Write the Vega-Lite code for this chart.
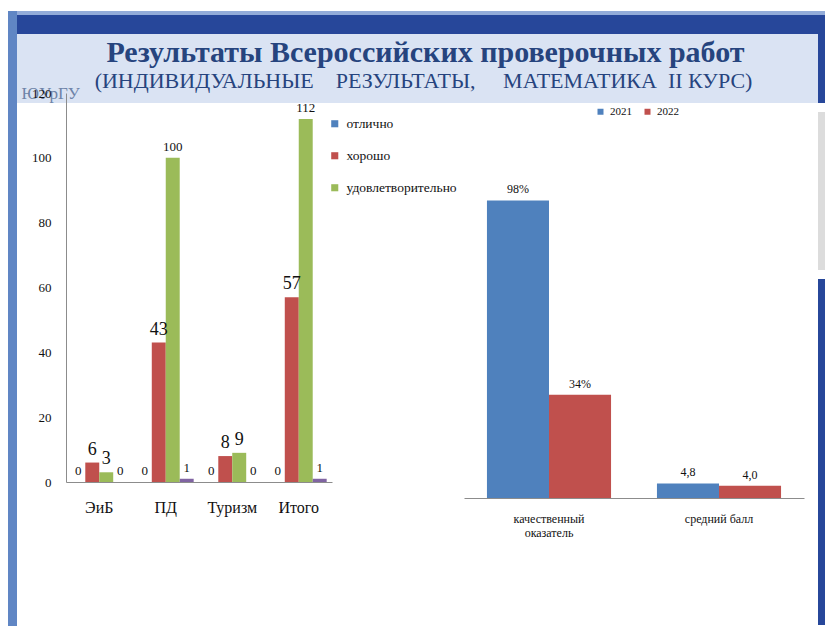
{
  "$schema": "https://vega.github.io/schema/vega-lite/v6.json",
  "padding": {"left": 8, "top": 11, "right": 0, "bottom": 0},
  "background": "white",
  "config": {"view": {"stroke": null}, "font": "Liberation Serif"},
  "spacing": 0,
  "align": "none",
  "hconcat": [
    {
      "width": 9, "height": 615,
      "view": {"fill": "#6086C4", "stroke": null},
      "data": {"values": [{}]},
      "mark": {"type": "text", "fontSize": 0},
      "encoding": {"text": {"value": ""}}
    },
    {
      "spacing": 0,
      "align": "none",
      "vconcat": [
        {
          "width": 808, "height": 4,
          "view": {"fill": "#93ACD9", "stroke": null},
          "data": {"values": [{}]},
          "mark": {"type": "text", "fontSize": 0},
          "encoding": {"text": {"value": ""}}
        },
        {
          "width": 808, "height": 19,
          "view": {"fill": "#27479A", "stroke": null},
          "data": {"values": [{}]},
          "mark": {"type": "text", "fontSize": 0},
          "encoding": {"text": {"value": ""}}
        },
        {
          "spacing": 0,
          "align": "none",
          "hconcat": [
            {
              "spacing": -16,
              "align": "none",
              "vconcat": [
                {
                  "width": 801, "height": 69,
                  "view": {"fill": "#DAE3F3", "stroke": null},
                  "data": {"values": [
                    {"line": "Результаты Всероссийских проверочных работ", "row": "title"},
                    {"line": "(ИНДИВИДУАЛЬНЫЕ\u00a0\u00a0\u00a0 РЕЗУЛЬТАТЫ,\u00a0\u00a0\u00a0\u00a0 МАТЕМАТИКА\u00a0 II КУРС)", "row": "subtitle"},
                    {"line": "ЮУрГУ", "row": "logo"}
                  ]},
                  "layer": [
                    {
                      "transform": [{"filter": "datum.row === 'title'"}],
                      "mark": {"type": "text", "font": "Liberation Serif", "fontWeight": "bold", "fontSize": 30, "color": "#26447E", "dx": 8, "dy": -16, "baseline": "middle"},
                      "encoding": {"text": {"field": "line"}}
                    },
                    {
                      "transform": [{"filter": "datum.row === 'subtitle'"}],
                      "mark": {"type": "text", "font": "Liberation Serif", "fontSize": 22, "color": "#26447E", "dx": 6, "dy": 12, "baseline": "middle"},
                      "encoding": {"text": {"field": "line"}}
                    },
                    {
                      "transform": [{"filter": "datum.row === 'logo'"}],
                      "mark": {"type": "text", "font": "Liberation Serif", "fontSize": 17, "color": "#6E84A8", "align": "left", "dx": -396, "dy": 25, "baseline": "middle"},
                      "encoding": {"text": {"field": "line"}}
                    }
                  ]
                },
                {
                  "spacing": 7,
                  "align": "none",
                  "resolve": {"scale": {"color": "independent", "xOffset": "independent", "x": "independent", "y": "independent"}, "legend": {"color": "independent"}},
                  "hconcat": [
                    {
                      "spacing": 13,
                      "align": "none",
                      "resolve": {"scale": {"color": "independent", "xOffset": "independent"}, "legend": {"color": "independent"}},
                      "hconcat": [
                        {
                          "width": 1, "height": 10,
                          "data": {"values": [{}]},
                          "mark": {"type": "text", "fontSize": 0},
                          "encoding": {"text": {"value": ""}}
                        },
                        {
                          "width": 266, "height": 389,
                          "data": {"values": [
                            {"group": "ЭиБ", "grade": "отлично", "count": 0},
                            {"group": "ЭиБ", "grade": "хорошо", "count": 6},
                            {"group": "ЭиБ", "grade": "удовлетворительно", "count": 3},
                            {"group": "ЭиБ", "grade": "неудовлетворительно", "count": 0},
                            {"group": "ПД", "grade": "отлично", "count": 0},
                            {"group": "ПД", "grade": "хорошо", "count": 43},
                            {"group": "ПД", "grade": "удовлетворительно", "count": 100},
                            {"group": "ПД", "grade": "неудовлетворительно", "count": 1},
                            {"group": "Туризм", "grade": "отлично", "count": 0},
                            {"group": "Туризм", "grade": "хорошо", "count": 8},
                            {"group": "Туризм", "grade": "удовлетворительно", "count": 9},
                            {"group": "Туризм", "grade": "неудовлетворительно", "count": 0},
                            {"group": "Итого", "grade": "отлично", "count": 0},
                            {"group": "Итого", "grade": "хорошо", "count": 57},
                            {"group": "Итого", "grade": "удовлетворительно", "count": 112},
                            {"group": "Итого", "grade": "неудовлетворительно", "count": 1}
                          ]},
                          "encoding": {
                            "x": {
                              "field": "group", "type": "nominal",
                              "sort": ["ЭиБ", "ПД", "Туризм", "Итого"],
                              "scale": {"paddingInner": 0.16, "paddingOuter": 0.08},
                              "axis": {"title": null, "labelAngle": 0, "ticks": false, "domainColor": "#8C8C8C", "labelFontSize": 16, "labelColor": "#111", "labelPadding": 17, "labelFont": "Liberation Serif"}
                            },
                            "xOffset": {"field": "grade", "type": "nominal", "scale": {"domain": ["отлично", "хорошо", "удовлетворительно", "неудовлетворительно"]}},
                            "y": {
                              "field": "count", "type": "quantitative",
                              "scale": {"domain": [0, 120]},
                              "axis": {"title": null, "values": [0, 20, 40, 60, 80, 100, 120], "grid": false, "ticks": false, "domainColor": "#8C8C8C", "labelFontSize": 13, "labelColor": "#111", "labelPadding": 15, "labelFont": "Liberation Serif"}
                            }
                          },
                          "layer": [
                            {
                              "mark": {"type": "bar"},
                              "encoding": {
                                "color": {
                                  "field": "grade", "type": "nominal",
                                  "scale": {"domain": ["отлично", "хорошо", "удовлетворительно", "неудовлетворительно"], "range": ["#4F81BD", "#C0504D", "#9BBB59", "#8064A2"]},
                                  "legend": {
                                    "values": ["отлично", "хорошо", "удовлетворительно"],
                                    "title": null, "orient": "none", "legendX": 262, "legendY": 24,
                                    "symbolType": "square", "symbolSize": 50, "symbolStrokeWidth": 0,
                                    "labelFontSize": 13.5, "labelFont": "Liberation Serif", "labelColor": "#111",
                                    "rowPadding": 17, "labelOffset": 5
                                  }
                                }
                              }
                            },
                            {
                              "mark": {"type": "text", "baseline": "bottom", "dy": -4, "color": "#111", "font": "Liberation Serif"},
                              "encoding": {
                                "text": {"field": "count", "type": "quantitative"},
                                "size": {"condition": {"test": "datum.grade === 'отлично' || datum.grade === 'неудовлетворительно' || datum.count >= 100", "value": 13}, "value": 18}
                              }
                            }
                          ]
                        }
                      ]
                    },
                    {
                      "width": 340, "height": 405,
                      "data": {"values": [
                        {"metric": "качественный оказатель", "year": "2021", "value": 98, "label": "98%"},
                        {"metric": "качественный оказатель", "year": "2022", "value": 34, "label": "34%"},
                        {"metric": "средний балл", "year": "2021", "value": 4.8, "label": "4,8"},
                        {"metric": "средний балл", "year": "2022", "value": 4.0, "label": "4,0"}
                      ]},
                      "encoding": {
                        "x": {
                          "field": "metric", "type": "nominal",
                          "sort": ["качественный оказатель", "средний балл"],
                          "scale": {"paddingInner": 0.27, "paddingOuter": 0.135},
                          "axis": {"title": null, "labelAngle": 0, "ticks": false, "domainColor": "#8C8C8C", "labelFontSize": 12, "labelColor": "#111", "labelPadding": 15, "labelLineHeight": 14, "labelFont": "Liberation Serif",
                            "labelExpr": "datum.label === 'качественный оказатель' ? ['качественный', 'оказатель'] : datum.label"}
                        },
                        "xOffset": {"field": "year", "type": "nominal", "scale": {"domain": ["2021", "2022"]}},
                        "y": {"field": "value", "type": "quantitative", "scale": {"domain": [0, 133.4]}, "axis": null}
                      },
                      "layer": [
                        {
                          "mark": {"type": "bar"},
                          "encoding": {
                            "color": {
                              "field": "year", "type": "nominal",
                              "scale": {"domain": ["2021", "2022"], "range": ["#4F81BD", "#C0504D"]},
                              "legend": {
                                "title": null, "orient": "none", "direction": "horizontal", "legendX": 131, "legendY": 13,
                                "symbolType": "square", "symbolSize": 36, "symbolStrokeWidth": 0,
                                "labelFontSize": 11, "labelFont": "Liberation Serif", "labelColor": "#111",
                                "columnPadding": 10, "labelOffset": 4
                              }
                            }
                          }
                        },
                        {
                          "mark": {"type": "text", "baseline": "bottom", "dy": -4, "fontSize": 12, "color": "#111", "font": "Liberation Serif"},
                          "encoding": {"text": {"field": "label", "type": "nominal"}}
                        }
                      ]
                    }
                  ]
                }
              ]
            },
            {
              "spacing": 9,
              "align": "none",
              "vconcat": [
                {
                  "width": 7, "height": 69,
                  "view": {"fill": "#27479A", "stroke": null},
                  "data": {"values": [{}]},
                  "mark": {"type": "text", "fontSize": 0},
                  "encoding": {"text": {"value": ""}}
                },
                {
                  "width": 7, "height": 158,
                  "view": {"fill": "#DCDCDC", "stroke": null},
                  "data": {"values": [{}]},
                  "mark": {"type": "text", "fontSize": 0},
                  "encoding": {"text": {"value": ""}}
                },
                {
                  "width": 7, "height": 346,
                  "view": {"fill": "#27479A", "stroke": null},
                  "data": {"values": [{}]},
                  "mark": {"type": "text", "fontSize": 0},
                  "encoding": {"text": {"value": ""}}
                }
              ]
            }
          ]
        }
      ]
    }
  ]
}
